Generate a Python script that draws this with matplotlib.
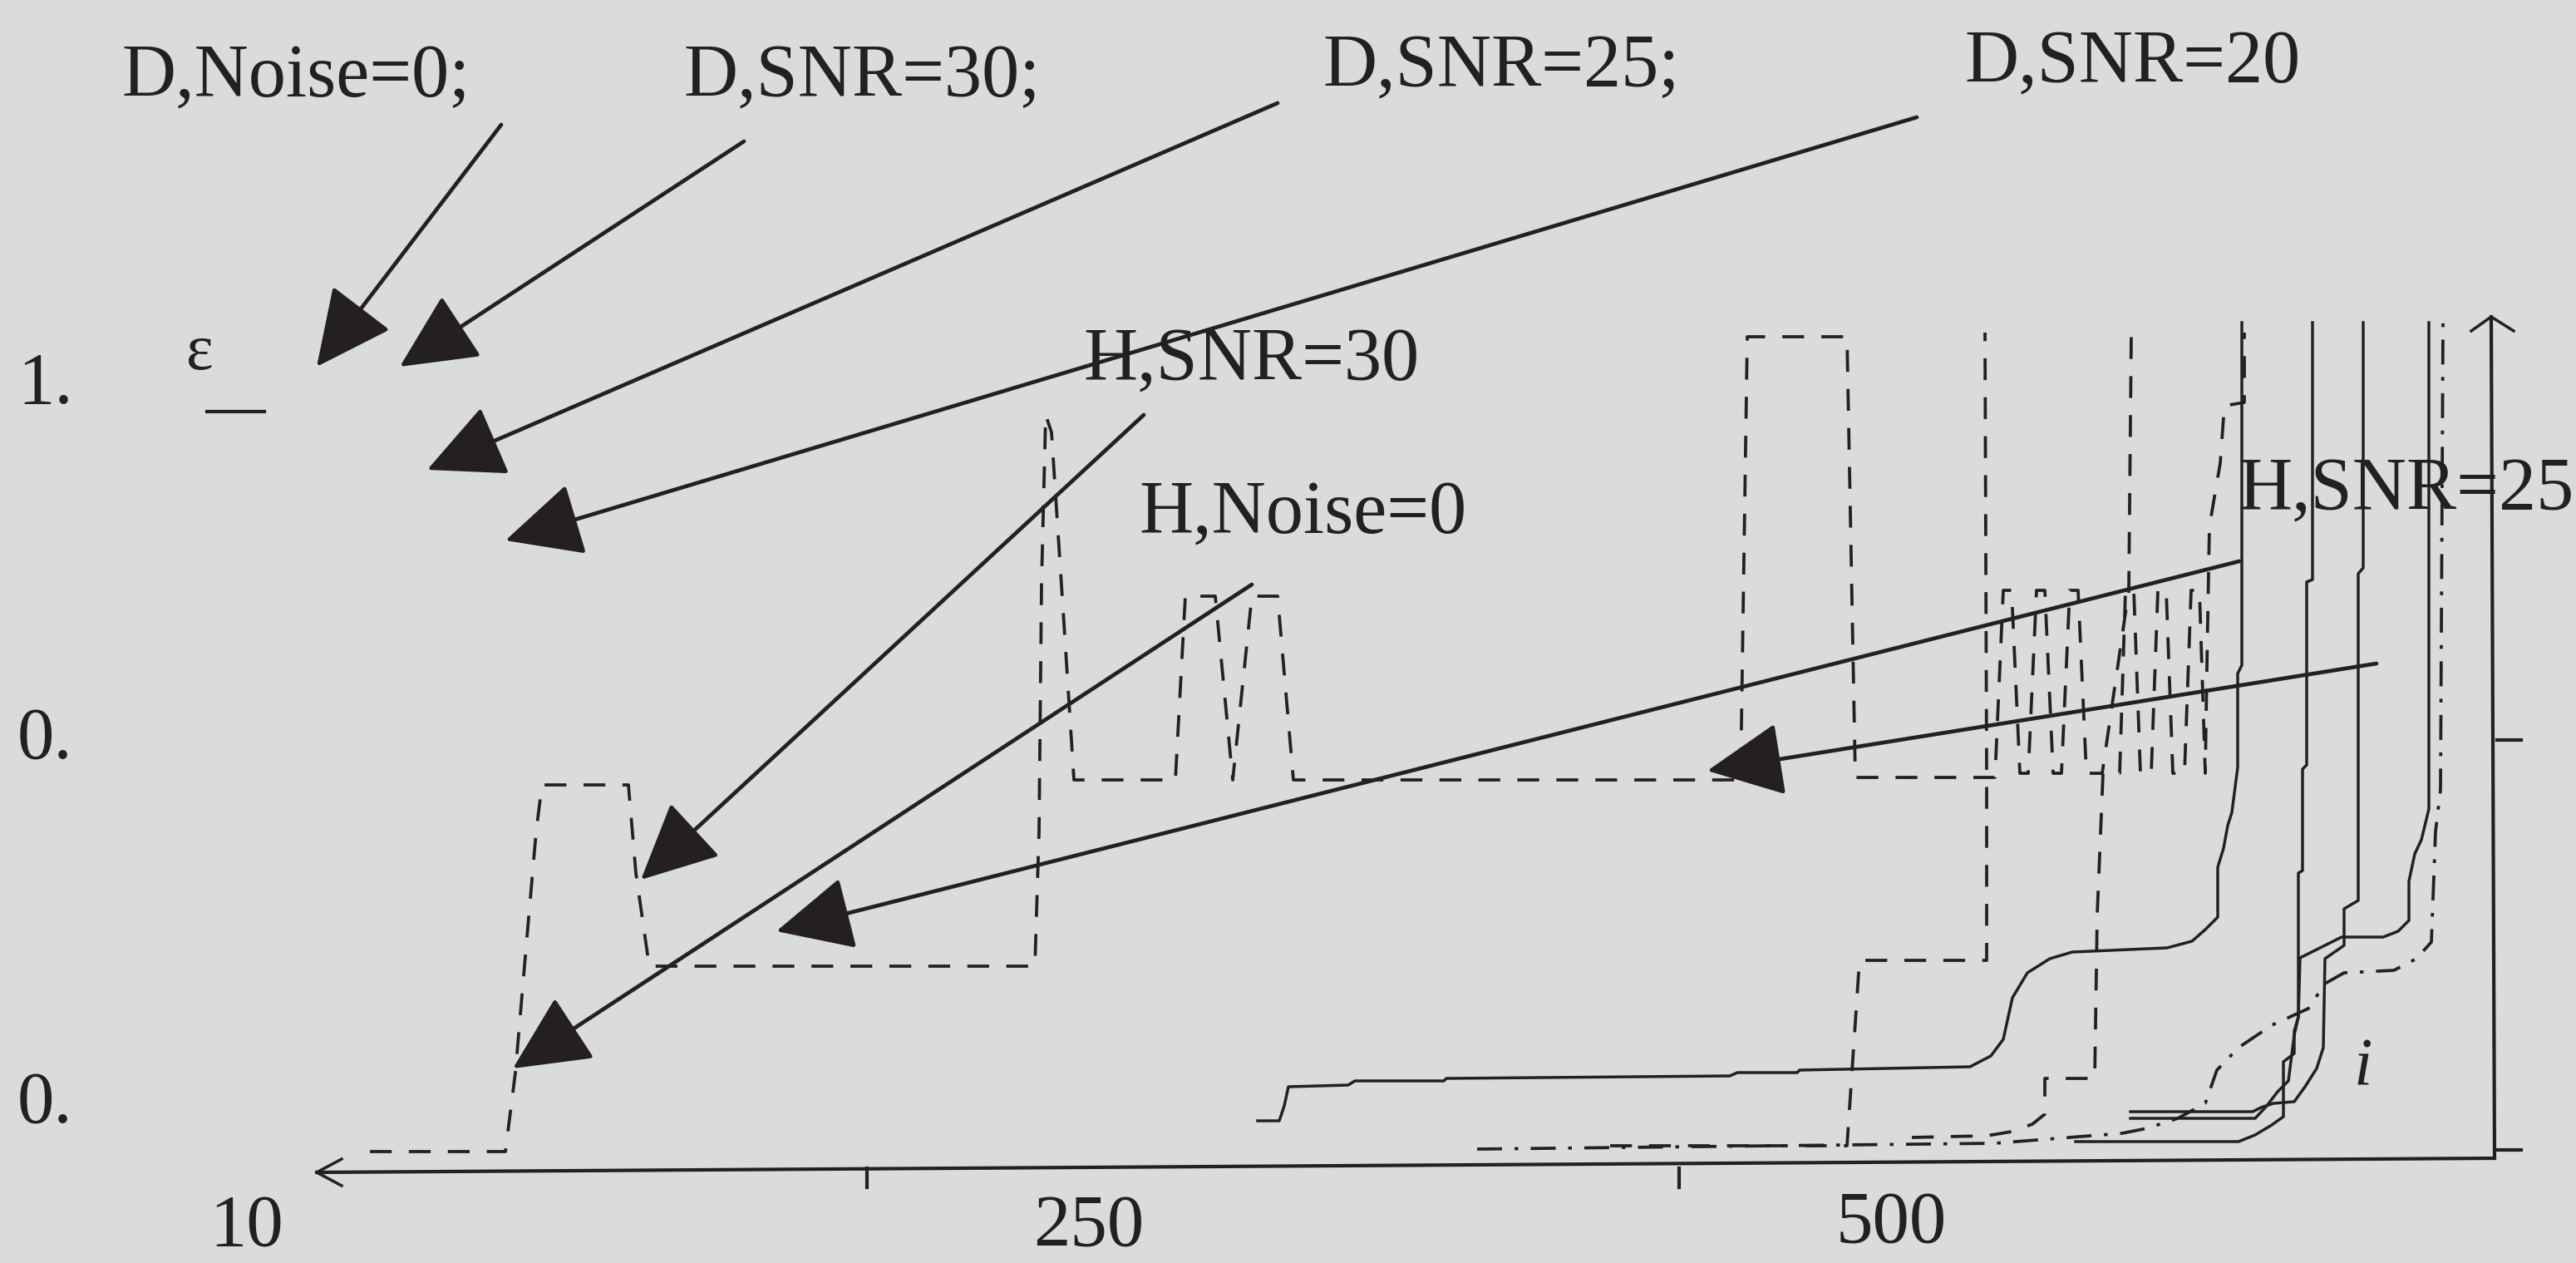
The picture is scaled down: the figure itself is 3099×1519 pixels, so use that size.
import matplotlib
matplotlib.use("Agg")
import matplotlib.pyplot as plt

# values: x = index, y = epsilon

# H, Noise=0 (dashed, the long one starting at the left)
h_noise0_x = [47.0, 87.75, 90.75, 93.75, 97.0, 98.75, 124.75, 127.0, 131.0, 247.0, 248.25, 249.0,
              250.25, 252.0, 255.75, 258.75, 289.25, 292.25, 301.25, 306.5, 312.25, 320.0, 324.75,
              459.25, 461.25, 491.25, 493.75, 530.75, 535.75, 538.25, 540.75, 543.25, 545.75,
              548.25, 550.75, 553.25, 555.75, 558.25, 560.75, 563.25, 568.0, 576.0, 576.75]
h_noise0_y = [0.015, 0.015, 0.110, 0.250, 0.400, 0.456, 0.456, 0.350, 0.238, 0.238, 0.400, 0.700,
              0.901, 0.880, 0.650, 0.462, 0.462, 0.683, 0.683, 0.462, 0.683, 0.683, 0.462,
              0.462, 0.995, 0.995, 0.465, 0.465, 0.465, 0.690, 0.690, 0.470, 0.470,
              0.690, 0.690, 0.470, 0.470, 0.690, 0.690, 0.470, 0.470, 0.690, 1.0]

# H, SNR=30 (dashed)
h_snr30_x = [420.0, 491.25, 495.0, 533.25, 533.25, 532.75]
h_snr30_y = [0.022, 0.022, 0.245, 0.245, 0.465, 1.0]

# H, SNR=25 (dashed)
h_snr25_x = [510.75, 533.25, 540.75, 547.0, 550.75, 550.75, 565.75, 566.5, 568.25, 573.25, 575.0,
             577.5, 579.5, 582.75, 584.75, 587.25, 589.25, 592.75, 594.75, 597.25, 599.0, 599.5,
             600.25, 603.5, 604.75, 610.75, 610.75]
h_snr25_y = [0.032, 0.034, 0.039, 0.048, 0.060, 0.103, 0.103, 0.300, 0.470, 0.470, 0.690,
             0.690, 0.470, 0.470, 0.690, 0.690, 0.470, 0.470, 0.690, 0.690, 0.470, 0.600,
             0.767, 0.843, 0.912, 0.916, 1.0]

# dash-dot curve along the bottom
dd_x = [380.0, 535.75, 574.0, 581.5, 590.75, 599.0, 602.5, 609.0, 619.0, 630.0, 635.0, 640.75,
        655.75, 662.5, 667.0, 668.25, 669.75, 670.5]
dd_y = [0.018, 0.025, 0.037, 0.043, 0.055, 0.073, 0.113, 0.140, 0.167, 0.187, 0.217, 0.230,
        0.233, 0.247, 0.267, 0.400, 0.450, 1.012]

# D curves (solid)
d1_x = [314.0, 320.5, 322.0, 323.25, 341.25, 343.25, 370.0, 370.75, 456.0, 458.25, 476.25, 477.0,
        528.25, 534.5, 538.25, 541.0, 545.5, 552.25, 559.0, 587.5, 595.0, 599.0, 602.75, 602.75,
        604.5, 605.75, 607.0, 608.75, 608.75, 610.0, 610.0]
d1_y = [0.052, 0.052, 0.070, 0.093, 0.095, 0.100, 0.100, 0.103, 0.106, 0.110, 0.110, 0.113,
        0.117, 0.130, 0.150, 0.200, 0.230, 0.247, 0.255, 0.260, 0.268, 0.282, 0.297, 0.357,
        0.380, 0.407, 0.423, 0.477, 0.590, 0.600, 1.012]

d2_x = [560.0, 609.0, 614.0, 619.0, 622.5, 622.5, 625.75, 625.75, 627.0, 627.0, 628.25, 628.25,
        629.5, 629.5, 631.25, 631.25]
d2_y = [0.027, 0.027, 0.035, 0.047, 0.057, 0.123, 0.133, 0.160, 0.177, 0.350, 0.353, 0.475,
        0.480, 0.700, 0.703, 1.012]

d3_x = [576.5, 613.25, 615.75, 619.5, 625.75, 629.0, 632.5, 634.5, 635.0, 640.75, 640.75, 645.0,
        645.0, 646.5, 646.5]
d3_y = [0.063, 0.063, 0.068, 0.073, 0.075, 0.093, 0.115, 0.140, 0.247, 0.263, 0.307, 0.317,
        0.710, 0.717, 1.012]

d4_x = [576.5, 614.0, 617.5, 620.75, 624.0, 625.75, 627.0, 627.5, 640.0, 652.5, 657.0, 660.25,
        660.25, 662.0, 664.0, 666.25, 666.25]
d4_y = [0.055, 0.055, 0.070, 0.087, 0.100, 0.155, 0.177, 0.248, 0.273, 0.273, 0.280, 0.293,
        0.340, 0.373, 0.390, 0.427, 1.012]

# labels and where their arrows go (text x, text y, arrow start, arrow tip)
labels = ["D,Noise=0;", "D,SNR=30;", "D,SNR=25;", "D,SNR=20", "H,SNR=30", "H,Noise=0", "H,SNR=25"]
label_x = [-27.75, 141.25, 333.5, 526.5, 261.5, 278.25, 608.75]
label_y = [1.284, 1.284, 1.296, 1.301, 0.943, 0.759, 0.787]

arrow_from = [(86.5, 1.25), (159.5, 1.23), (320.0, 1.276), (512.25, 1.259),
              (279.75, 0.901), (312.25, 0.697), (609.25, 0.725), (650.5, 0.602)]
arrow_to = [(31.0, 0.959), (56.0, 0.959), (64.25, 0.835), (87.75, 0.750),
            (128.5, 0.342), (90.0, 0.115), (169.25, 0.280), (449.25, 0.473)]

xtick_labels = ["10", "250", "500"]
xtick_label_pos = [10, 263.25, 504.5]
xtick_label_base = [-0.098, -0.098, -0.094]
xtick_pos = [196.5, 440.75]
ytick_labels = ["1.", "0.", "0."]
ytick_label_pos = [0.915, 0.488, 0.050]
ytick_pos = [0.51, 0.017]

ink = "#241f20"
bg = "#d9dcdb"
serif = "Liberation Serif"

fig = plt.figure(figsize=(30.99, 15.19), dpi=100, facecolor=bg)
ax = fig.add_axes([0, 0, 1, 1])
ax.set_xlim(-64.25, 710.5)
ax.set_ylim(-0.119, 1.4)
ax.axis("off")

dash = (0, (7, 5.5))
ax.plot(h_noise0_x, h_noise0_y, color=ink, lw=2.7, ls=dash)
ax.plot(h_snr30_x, h_snr30_y, color=ink, lw=2.7, ls=dash)
ax.plot(h_snr25_x, h_snr25_y, color=ink, lw=2.7, ls=dash)
ax.plot(dd_x, dd_y, color=ink, lw=2.7, ls=(0, (8, 4, 1.2, 4)))
for xs, ys in [(d1_x, d1_y), (d2_x, d2_y), (d3_x, d3_y), (d4_x, d4_y)]:
    ax.plot(xs, ys, color=ink, lw=2.5)

# axes drawn by hand like in the original (x axis arrow points left)
ax.plot([31.0, 686.0], [-0.010, 0.007], color=ink, lw=3)
ax.plot([38.5, 31.0, 38.5], [0.006, -0.010, -0.026], color=ink, lw=2.5)
ax.plot([686.0, 685.0], [0.007, 1.019], color=ink, lw=3)
ax.plot([679.0, 685.0, 691.75], [1.002, 1.019, 1.002], color=ink, lw=2.5)
for xt in xtick_pos:
    ax.plot([xt, xt], [-0.005, -0.028], color=ink, lw=3)
for yt in ytick_pos:
    ax.plot([686.75, 694.0], [yt, yt], color=ink, lw=3)

for name, tx, ty in zip(xtick_labels, xtick_label_pos, xtick_label_base):
    ax.text(tx, ty, name, ha="center", va="baseline", fontsize=64, family=serif, color=ink)
for name, ty in zip(ytick_labels, ytick_label_pos):
    ax.text(-59.0, ty, name, ha="left", va="baseline", fontsize=64, family=serif, color=ink)

ax.text(-4.25, 0.975, "ε", ha="center", va="center", fontsize=56, family=serif, color=ink)
ax.plot([-2.0, 15.25], [0.905, 0.905], color=ink, lw=3)
ax.text(646.5, 0.115, "i", ha="center", va="center", fontsize=58, family=serif,
        style="italic", color=ink)

for name, tx, ty in zip(labels, label_x, label_y):
    ax.text(tx, ty, name, ha="left", va="baseline", fontsize=65, family=serif, color=ink, zorder=5)

for a, b in zip(arrow_from, arrow_to):
    ax.annotate("", xy=b, xytext=a,
                arrowprops=dict(arrowstyle="-|>,head_length=0.58,head_width=0.28",
                                mutation_scale=100, lw=3.4, color=ink,
                                shrinkA=0, shrinkB=0))

fig.savefig("out.png", dpi=100, facecolor=bg)
